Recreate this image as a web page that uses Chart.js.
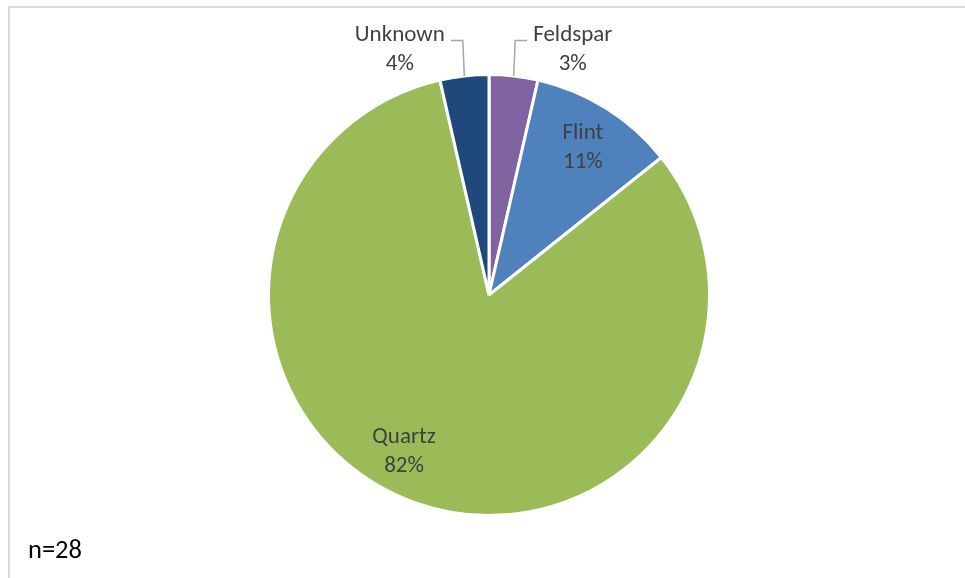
<!DOCTYPE html>
<html>
<head>
<meta charset="utf-8">
<script src="https://cdn.jsdelivr.net/npm/chart.js@4"></script>
<style>
  html, body { margin: 0; padding: 0; background: #fff; overflow: hidden; }
  #wrap { position: relative; width: 965px; height: 578px; }
  #frame { position: absolute; left: 8px; top: 6px; width: 1000px; height: 1000px;
           border: 2px solid #D9D9D9; box-sizing: border-box; }
  #note { position: absolute; left: 28px; top: 533px; font: 26.5px Carlito, Calibri, Lato, sans-serif; color: #000; }
  canvas { position: absolute; left: 0; top: 0; }
</style>
</head>
<body>
<div id="wrap">
  <div id="frame"></div>
  <canvas id="pie" width="965" height="578"></canvas>
  <div id="note">n=28</div>
</div>
<script>
const categories = ['Feldspar', 'Flint', 'Quartz', 'Unknown'];
const counts = [1, 3, 23, 1];
const pctLabels = ['3%', '11%', '82%', '4%'];
const colors = ['#8064A2', '#4F81BD', '#9BBB59', '#1F497D'];
// inside labels sit at 0.8 of the radius, outside ones go above with a leader line
const labelPlace = ['outside', 'inside', 'inside', 'outside'];
// best-fit nudge of the label angle, degrees
const labelTurn = [0, 0, 9.5, 0];

const FONT = '23px Carlito, Calibri, Lato, sans-serif';

const labelPlugin = {
  id: 'sliceLabels',
  afterDatasetsDraw(chart) {
    const ctx = chart.ctx;
    const arcs = chart.getDatasetMeta(0).data;
    ctx.save();
    ctx.font = FONT;
    ctx.fillStyle = '#404040';
    ctx.textBaseline = 'middle';
    arcs.forEach((arc, i) => {
      const mid = (arc.startAngle + arc.endAngle) / 2 + labelTurn[i] * Math.PI / 180;
      const r = arc.outerRadius;
      if (labelPlace[i] === 'inside') {
        const d = r * 0.8;
        const x = arc.x + Math.cos(mid) * d;
        const y = arc.y + Math.sin(mid) * d;
        ctx.textAlign = 'center';
        ctx.fillText(categories[i], x, y - 12);
        ctx.fillText(pctLabels[i], x, y + 17);
      } else {
        const sx = arc.x + Math.cos(mid) * r;
        const sy = arc.y + Math.sin(mid) * r;
        const ey = arc.y - r - 34;
        const side = Math.cos(mid) < 0 ? -1 : 1;
        const ex = sx + side * 1.5;
        const hx = ex + side * 12;
        ctx.strokeStyle = '#A6A6A6';
        ctx.lineWidth = 1.5;
        ctx.beginPath();
        ctx.moveTo(sx, sy);
        ctx.lineTo(ex, ey);
        ctx.lineTo(hx, ey);
        ctx.stroke();
        const w = Math.max(ctx.measureText(categories[i]).width, ctx.measureText(pctLabels[i]).width);
        const cx = hx + side * (w / 2 + 6);
        ctx.textAlign = 'center';
        ctx.fillText(categories[i], cx, ey - 5);
        ctx.fillText(pctLabels[i], cx, ey + 24);
      }
    });
    ctx.restore();
  }
};

new Chart(document.getElementById('pie'), {
  type: 'pie',
  data: {
    labels: categories,
    datasets: [{
      data: counts,
      backgroundColor: colors,
      borderColor: '#FFFFFF',
      borderWidth: 3
    }]
  },
  options: {
    responsive: false,
    animation: false,
    layout: { padding: { top: 73, bottom: 61, left: 267, right: 254 } },
    plugins: {
      legend: { display: false },
      tooltip: { enabled: false }
    }
  },
  plugins: [labelPlugin]
});
</script>
</body>
</html>
